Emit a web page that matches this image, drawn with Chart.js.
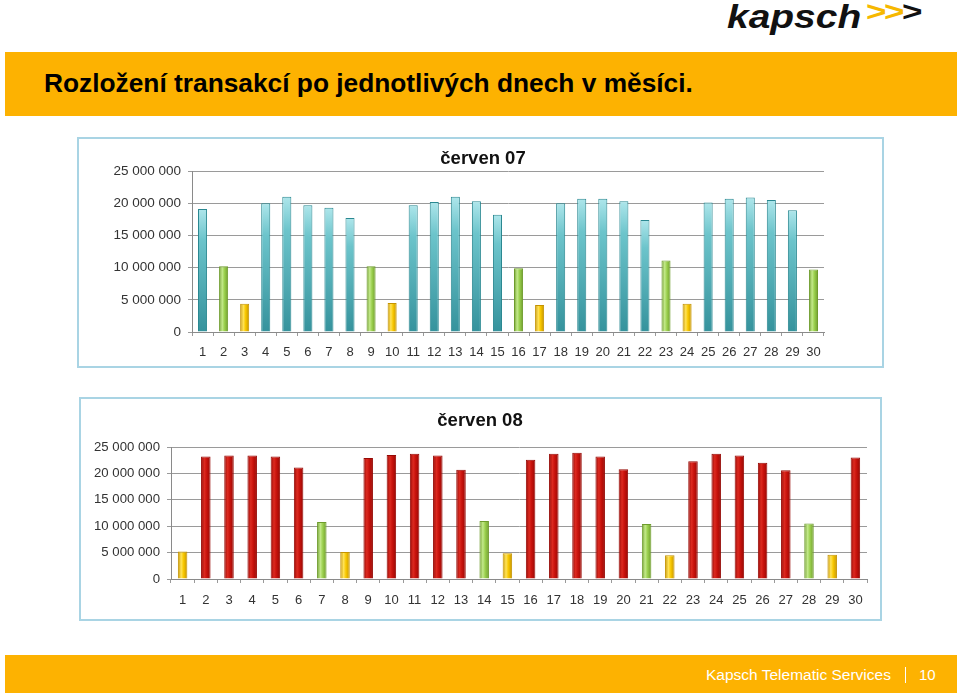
<!DOCTYPE html>
<html>
<head>
<meta charset="utf-8">
<script src="https://cdn.jsdelivr.net/npm/chart.js@4.4.1/dist/chart.umd.min.js"></script>
<style>
  html, body { margin:0; padding:0; background:#ffffff; }
  body { width:960px; height:696px; position:relative; overflow:hidden; font-family:"Liberation Sans", Arial, sans-serif; }
  .band { position:absolute; background:#fdb201; }
  #hdr { left:5px; top:52px; width:952px; height:64px; }
  #ftr { left:5px; top:655px; width:952px; height:38px; }
  #title { position:absolute; left:44px; top:68px; font-size:26.3px; font-weight:bold; color:#000; white-space:nowrap; }
  #logo { position:absolute; left:727px; top:-2px; font-size:33px; font-weight:bold; font-style:italic; color:#111; white-space:nowrap; transform:scaleX(1.18); transform-origin:left top; }
  #chev { position:absolute; left:866px; top:-4px; font-size:28px; font-weight:bold; white-space:nowrap; letter-spacing:-2px; transform:scaleX(1.25); transform-origin:left top; }
  #ftxt { position:absolute; left:706px; top:666px; font-size:15.5px; color:#fff; white-space:nowrap; }
  #fsep { position:absolute; left:905px; top:667px; width:1px; height:16px; background:#fff; }
  #fnum { position:absolute; left:919px; top:666px; font-size:15px; color:#fff; }
  .box { position:absolute; box-sizing:border-box; border:2px solid #a9d4e4; background:#fff; }
  #box1 { left:77px; top:137px; width:807px; height:231px; }
  #box2 { left:79px; top:397px; width:803px; height:224px; }
  .box canvas { position:absolute; left:0; top:0; }
</style>
</head>
<body>
<div id="logo">kapsch</div>
<div id="chev"><span style="color:#f6b800">&gt;&gt;</span><span style="color:#111">&gt;</span></div>
<div class="band" id="hdr"></div>
<div id="title">Rozložení transakcí po jednotlivých dnech v měsíci.</div>
<div class="box" id="box1"><canvas id="c1" width="803" height="227"></canvas></div>
<div class="box" id="box2"><canvas id="c2" width="799" height="220"></canvas></div>
<div class="band" id="ftr"></div>
<div id="ftxt">Kapsch Telematic Services</div>
<div id="fsep"></div>
<div id="fnum">10</div>
<script>
// ---- data ----
const days = ['1','2','3','4','5','6','7','8','9','10','11','12','13','14','15','16','17','18','19','20','21','22','23','24','25','26','27','28','29','30'];
const title07 = 'červen 07';
const title08 = 'červen 08';
const values07 = [19.1,10.2,4.4,20.0,21.0,19.7,19.3,17.7,10.2,4.5,19.7,20.2,21.0,20.3,18.2,9.9,4.2,20.0,20.7,20.7,20.3,17.4,11.1,4.4,20.1,20.7,20.9,20.5,18.9,9.7].map(v => v * 1e6);
const values08 = [5.2,23.2,23.4,23.4,23.2,21.1,10.8,5.1,22.9,23.5,23.7,23.4,20.7,11.0,4.9,22.6,23.7,23.9,23.2,20.8,10.4,4.5,22.3,23.7,23.4,22.0,20.6,10.5,4.6,23.0].map(v => v * 1e6);
const yTicks = [0, 5e6, 10e6, 15e6, 20e6, 25e6];

// kind of day from the calendar (June 2007 / June 2008)
function kinds(year) {
  return days.map(d => {
    const wd = new Date(year, 5, +d).getDay();
    return wd === 6 ? 'sat' : (wd === 0 ? 'sun' : 'work');
  });
}
const kinds07 = kinds(2007);
const kinds08 = kinds(2008);

const palettes = {
  teal: { dark:'#2a8891', light:'#a6e3ea', mid:'#4fb4bd' },
  red:  { dark:'#960905', light:'#dc2a20', mid:'#c8120c' },
  sat:  { dark:'#6e9c2c', light:'#c3e98a', mid:'#9bd04e' },
  sun:  { dark:'#c49300', light:'#ffe35a', mid:'#f8c800' }
};

function fmt(v) { return String(Math.round(v)).replace(/\B(?=(\d{3})+(?!\d))/g, ' '); }

function barColor(kindArr, workKey, pct) {
  return function(ctx) {
    const k = kindArr[ctx.dataIndex];
    const p = palettes[k === 'work' ? workKey : k];
    const chart = ctx.chart;
    if (!chart.chartArea || !chart.scales.x) return p.mid;
    const xs = chart.scales.x;
    const xc = xs.getPixelForValue(ctx.dataIndex);
    const hw = (xs.width / days.length) * pct / 2;
    const g = chart.ctx.createLinearGradient(xc - hw, 0, xc + hw, 0);
    g.addColorStop(0, p.dark);
    g.addColorStop(0.35, p.light);
    g.addColorStop(0.6, p.mid);
    g.addColorStop(1, p.dark);
    return g;
  };
}
function tealVertical(kindArr, pct) {
  return function(ctx) {
    const k = kindArr[ctx.dataIndex];
    const chart = ctx.chart;
    if (k !== 'work') return barColor(kindArr, 'teal', pct)(ctx);
    if (!chart.chartArea) return palettes.teal.mid;
    const ys = chart.scales.y;
    const top = ys.getPixelForValue(ctx.raw);
    const g = chart.ctx.createLinearGradient(0, top, 0, ys.bottom);
    g.addColorStop(0, '#aee6eb');
    g.addColorStop(0.25, '#6cc4cb');
    g.addColorStop(1, '#35929c');
    return g;
  };
}
function borderColor(kindArr, workKey) {
  return ctx => {
    const k = kindArr[ctx.dataIndex];
    return palettes[k === 'work' ? workKey : k].dark;
  };
}

const fixedTitle = {
  id: 'fixedTitle',
  afterDraw(chart, args, o) {
    const c = chart.ctx;
    c.save();
    c.font = 'bold 18.5px "Liberation Sans", Arial, sans-serif';
    c.fillStyle = '#111';
    c.textAlign = 'center';
    c.textBaseline = 'middle';
    c.fillText(o.text, o.x, o.y);
    c.restore();
  }
};

function makeChart(id, labels, values, title, kindArr, workKey, opts) {
  const bgFn = workKey === 'teal' ? tealVertical(kindArr, opts.pct) : barColor(kindArr, workKey, opts.pct);
  return new Chart(document.getElementById(id), {
    type: 'bar',
    plugins: [fixedTitle],
    data: {
      labels: labels,
      datasets: [{
        data: values,
        backgroundColor: bgFn,
        borderColor: borderColor(kindArr, workKey),
        borderWidth: 1,
        barPercentage: opts.pct,
        categoryPercentage: 1
      }]
    },
    options: {
      responsive: false,
      animation: false,
      events: [],
      layout: { padding: { left: 0, right: opts.padRight, top: opts.padTop, bottom: 0 } },
      plugins: {
        legend: { display: false },
        tooltip: { enabled: false },
        title: { display: false },
        fixedTitle: { text: title, x: opts.titleX, y: opts.titleY }
      },
      scales: {
        x: {
          grid: { display: true, drawOnChartArea: false, drawTicks: true, tickLength: 4, color: '#9a9a9a', offset: true },
          border: { display: true, color: '#8a8a8a', width: 1 },
          ticks: { color: '#333', padding: opts.xPad, font: { family: 'Liberation Sans, Arial, sans-serif', size: 13 }, maxRotation: 0, autoSkip: false },
          afterFit: s => { s.height = opts.xHeight; }
        },
        y: {
          min: 0, max: 25e6,
          afterBuildTicks: s => { s.ticks = yTicks.map(v => ({ value: v })); },
          grid: { color: '#9a9a9a', tickLength: 4, lineWidth: 1 },
          border: { display: true, color: '#8a8a8a', width: 1 },
          ticks: { color: '#333', padding: 7, callback: v => fmt(v), font: { family: 'Liberation Sans, Arial, sans-serif', size: opts.ySize } },
          afterFit: s => { s.width = opts.yWidth; }
        }
      }
    }
  });
}

makeChart('c1', days, values07, title07, kinds07, 'teal',
  { pct: 0.43, padRight: 58, padTop: 32, xHeight: 34, xPad: 9, yWidth: 113, ySize: 13.5, titleX: 404, titleY: 20 });
makeChart('c2', days, values08, title08, kinds08, 'red',
  { pct: 0.41, padRight: 13, padTop: 48, xHeight: 40, xPad: 10, yWidth: 90, ySize: 13.2, titleX: 399, titleY: 22 });
</script>
</body>
</html>
